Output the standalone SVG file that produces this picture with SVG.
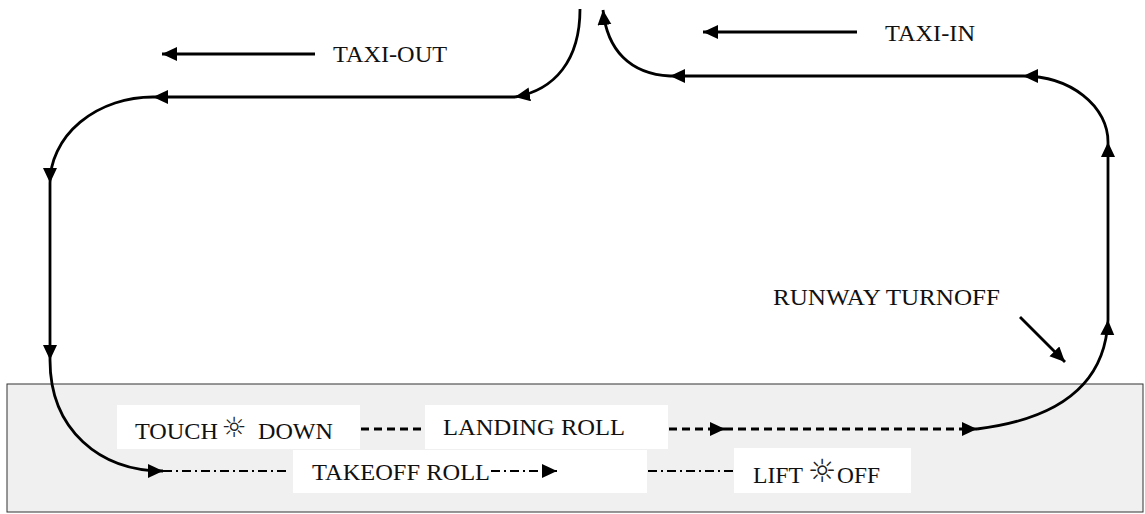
<svg xmlns="http://www.w3.org/2000/svg" width="1145" height="514" viewBox="0 0 1145 514">
<style>
.ln{fill:none;stroke:#000;stroke-width:2.8}
.dash{stroke-dasharray:8 5}
.dd{stroke-dasharray:9 4 2 4;stroke-width:2.2}
.t{font-family:"Liberation Serif","Times New Roman",serif;font-size:23px;fill:#111}
.sun{font-family:"DejaVu Sans",sans-serif;fill:#222}
.box{fill:#fff}
</style>
<defs>
<marker id="ah" markerUnits="userSpaceOnUse" markerWidth="16" markerHeight="15" refX="15" refY="7" orient="auto">
<path d="M0,0 L15,7 L0,14 z" fill="#000"/>
</marker>
</defs>
<rect id="runway" x="7" y="384" width="1136" height="128" fill="#f0f0f0" stroke="#333" stroke-width="1"/>
<g id="boxes">
<rect class="box" x="117" y="405" width="243" height="44"/>
<rect class="box" x="425" y="405" width="243" height="44"/>
<rect class="box" x="293" y="450" width="354" height="43"/>
<rect class="box" x="734" y="448" width="177" height="45"/>
</g>
<g id="connectors">
<path class="ln" d="M580 9 C580 60 555 90 515 97" marker-end="url(#ah)"/>
<path class="ln" d="M515 97 L153 97" marker-end="url(#ah)"/>
<path class="ln" d="M153 97 A103 86 0 0 0 50 183" marker-end="url(#ah)"/>
<path class="ln" d="M50 183 L50 360" marker-end="url(#ah)"/>
<path class="ln" d="M50 360 C50 430 100 471 163 471" marker-end="url(#ah)"/>
<path class="ln dd" d="M163 471 L290 471"/>
<path class="ln dd" d="M491 471 L557 471" marker-end="url(#ah)"/>
<path class="ln dd" d="M648 471 L733 471"/>
<path class="ln dash" d="M361 429 L421 429"/>
<path class="ln dash" d="M669 429 L725 429" marker-end="url(#ah)"/>
<path class="ln dash" d="M725 429 L977 429" marker-end="url(#ah)"/>
<path class="ln" d="M977 429 C1050 420 1105 390 1108 320" marker-end="url(#ah)"/>
<path class="ln" d="M1108 320 L1108 142" marker-end="url(#ah)"/>
<path class="ln" d="M1108 142 A85 66 0 0 0 1023 76" marker-end="url(#ah)"/>
<path class="ln" d="M1023 76 L670 76" marker-end="url(#ah)"/>
<path class="ln" d="M670 76 C630 74 607 50 603 10" marker-end="url(#ah)"/>
<path class="ln" d="M315 54 L162 54" marker-end="url(#ah)"/>
<path class="ln" d="M857 32 L703 32" marker-end="url(#ah)"/>
<path class="ln" d="M1020 317 L1065 362" marker-end="url(#ah)"/>
</g>
<g id="taxi-out"><text class="t" x="333" y="62" textLength="114" lengthAdjust="spacingAndGlyphs">TAXI-OUT</text></g>
<g id="taxi-in"><text class="t" x="885" y="41" textLength="90" lengthAdjust="spacingAndGlyphs">TAXI-IN</text></g>
<g id="runway-turnoff"><text class="t" x="773" y="305" textLength="227" lengthAdjust="spacingAndGlyphs">RUNWAY TURNOFF</text></g>
<g id="touch-down">
<text class="t" x="135" y="439" textLength="83" lengthAdjust="spacingAndGlyphs">TOUCH</text>
<text class="sun" x="234" y="437" font-size="28" text-anchor="middle">☼</text>
<text class="t" x="258" y="439" textLength="75" lengthAdjust="spacingAndGlyphs">DOWN</text>
</g>
<g id="landing-roll"><text class="t" x="443" y="435" textLength="182" lengthAdjust="spacingAndGlyphs">LANDING ROLL</text></g>
<g id="takeoff-roll"><text class="t" x="312" y="480" textLength="178" lengthAdjust="spacingAndGlyphs">TAKEOFF ROLL</text></g>
<g id="lift-off">
<text class="t" x="753" y="483" textLength="50" lengthAdjust="spacingAndGlyphs">LIFT</text>
<text class="sun" x="822" y="482" font-size="32" text-anchor="middle">☼</text>
<text class="t" x="837" y="483" textLength="43" lengthAdjust="spacingAndGlyphs">OFF</text>
</g>
</svg>
